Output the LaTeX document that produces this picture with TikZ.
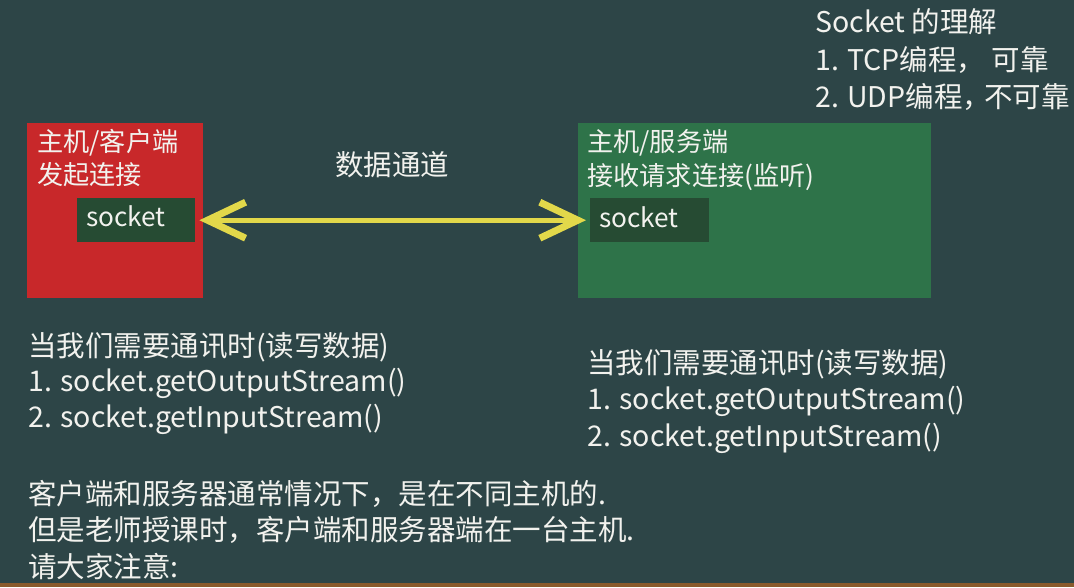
\documentclass[tikz,border=0pt]{standalone}
\usepackage{fontspec}
\setmainfont{Noto Sans CJK SC}
\usetikzlibrary{arrows.meta}
\definecolor{board}{HTML}{2D4547}
\definecolor{redbox}{HTML}{C8282A}
\definecolor{greenbox}{HTML}{2E7349}
\definecolor{sockbox}{HTML}{264B33}
\definecolor{chalk}{HTML}{F2F2EE}
\definecolor{arrowyel}{HTML}{E2D84A}
\definecolor{wood}{HTML}{8A5A2C}
\begin{document}
\begin{tikzpicture}[x=1pt,y=-1pt,
  txt/.style={text=chalk,inner sep=0pt,anchor=west,font=\fontsize{28.5}{32}\selectfont},
  boxtxt/.style={txt,font=\fontsize{26.2}{30}\selectfont},
  hostbox/.style={anchor=north west,inner sep=0pt,draw=none},
  sockrect/.style={fill=sockbox,anchor=north west,inner sep=0pt,minimum width=118pt,minimum height=44pt}]
\fill[board] (0,0) rectangle (1074,587);
\useasboundingbox (0,0) rectangle (1074,587);
\fill[wood] (0,583) rectangle (1074,587);
% host boxes
\node[hostbox,fill=redbox,minimum width=176pt,minimum height=175pt] (client) at (27,123) {};
\node[hostbox,fill=greenbox,minimum width=353pt,minimum height=175pt] (server) at (578,123) {};
\node[sockrect] (csock) at (77,198) {};
\node[sockrect,minimum width=119pt] (ssock) at (590,198) {};
% labels in boxes
\node[boxtxt] (c1) at (37,143) {主机/客户端};
\node[boxtxt] (c2) at (37,175) {发起连接};
\node[boxtxt] (cs) at (86,216) {socket};
\node[boxtxt] (s1) at (587,143) {主机/服务端};
\node[boxtxt] (s2) at (587,177) {接收请求连接(监听)};
\node[boxtxt] (ss) at (599,217) {socket};
% channel
\node[txt,anchor=center] (chan) at (392,165) {数据通道};
\draw[arrowyel,line width=5pt,
  {Straight Barb[length=38pt,width=36pt,line width'=7pt]}-{Straight Barb[length=38pt,width=36pt,line width'=7pt]}]
  ([xshift=4pt]csock.east) -- ([xshift=-4pt]ssock.west);
% top right
\node[txt] (u1) at (815,22) {Socket 的理解};
\node[txt] (u2) at (815,60) {1. TCP编程， 可靠};
\node[txt] (u3) at (815,97) {2. UDP编程\makebox[0.75em][l]{，}不可靠};
% left notes
\node[txt] (l1) at (28,347) {当我们需要通讯时(读写数据)};
\node[txt] (l2) at (28,383) {1. socket.getOutputStream()};
\node[txt] (l3) at (28,419) {2. socket.getInputStream()};
% right notes
\node[txt] (r1) at (587,364) {当我们需要通讯时(读写数据)};
\node[txt] (r2) at (587,401) {1. socket.getOutputStream()};
\node[txt] (r3) at (587,438) {2. socket.getInputStream()};
% bottom notes
\node[txt] (b1) at (28,494) {客户端和服务器通常情况下，是在不同主机的.};
\node[txt] (b2) at (28,530) {但是老师授课时，客户端和服务器端在一台主机.};
\node[txt] (b3) at (28,567) {请大家注意:};
\end{tikzpicture}
\end{document}
